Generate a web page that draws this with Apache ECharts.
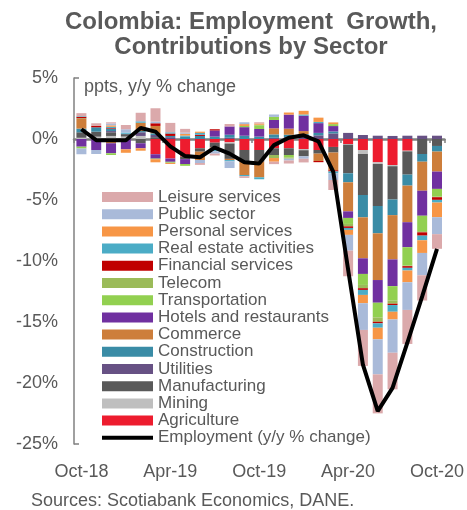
<!DOCTYPE html>
<html>
<head>
<meta charset="utf-8">
<script src="https://cdn.jsdelivr.net/npm/echarts@6/dist/echarts.min.js"></script>
<style>
html,body{margin:0;padding:0;background:#fff;}
#chart{width:467px;height:510px;}
</style>
</head>
<body>
<div id="chart"></div>
<script>
const categories = ['Oct-18','Nov-18','Dec-18','Jan-19','Feb-19','Mar-19','Apr-19','May-19','Jun-19','Jul-19','Aug-19','Sep-19','Oct-19','Nov-19','Dec-19','Jan-20','Feb-20','Mar-20','Apr-20','May-20','Jun-20','Jul-20','Aug-20','Sep-20','Oct-20'];
const yTicks = [-25,-20,-15,-10,-5,0,5];

const agriculture   = [0,0,0,0,0,-1.25,-1.6,-1.45,-0.76,-0.3,-0.27,-0.9,-0.9,-0.76,-0.76,-0.82,-0.9,-0.65,-0.41,-0.9,-1.91,-2.13,-0.96,0,0];
const mining        = [0.1,0.19,0.25,0.2,0.25,0,0,0,0,0,-0.1,0,0,0,0,-0.1,0,0,-0.05,-0.33,-0.14,-0.1,-0.05,0,0];
const manufacturing = [0.45,0.41,0.3,0.2,-0.35,0.15,0,-0.2,-0.28,-0.4,-1.26,-0.95,-0.96,-0.55,-0.55,-0.5,-0.3,-0.46,-2.35,-3.36,-3.44,-2.73,-1.91,-1.23,-0.57];
const utilities     = [0,0,0.1,0,0.3,0.18,0.15,0,0,0,0.1,0,0,0.1,0.15,0.2,0.3,0.46,0.5,0.33,0.27,0.25,0.27,0.27,0.27];
const construction  = [0.3,0.36,0.2,0.03,0.1,0.14,0.1,0.18,0.25,0.2,0.25,0.27,0.2,0.28,0.2,0.2,0.2,0.16,-0.74,-1.83,-2.24,-1.28,-0.9,-0.63,-0.46];
const commerce      = [0.8,0,-0.35,0,0.68,0.6,0,0,-0.68,-0.2,-0.1,-1.1,-1.28,0.5,0.5,0.25,-0.6,-1.45,-2.38,-3.36,-3.83,-3.63,-3.0,-2.38,-1.64];
const hotels        = [-0.63,-0.9,-0.82,-0.85,-0.41,-0.36,-0.27,-0.4,0,0.5,0.68,0.7,0.62,0.68,1.15,1.26,0.8,0.44,-0.54,-1.28,-1.86,-2.19,-2.05,-2.05,-1.42];
const transport     = [-0.15,0,-0.14,0,0,-0.05,-0.05,-0.15,0,0,0,0.1,0.3,0.25,-0.2,0,0,0.16,-0.49,-0.9,-1.2,-1.17,-1.5,-1.26,-0.63];
const telecom       = [0.05,0,0,0,0,0,-0.05,0,0,0,0,0,0.05,-0.25,-0.1,0,0,0,-0.2,-0.27,-0.36,-0.27,-0.05,-0.1,-0.05];
const financial     = [0.12,0.11,0.05,0,0,0.22,0.2,0,0.1,0.1,0,0,0,0,0,0,-0.1,-0.1,-0.13,-0.14,-0.13,-0.11,-0.14,-0.27,-0.22];
const realEstate    = [0.05,0,0.1,0.1,0.12,0,0.1,0.1,0.15,-0.1,-0.1,-0.1,-0.16,0,0,0.1,0.1,-0.15,-0.16,-0.41,-0.36,-0.55,-0.22,-0.38,-0.22];
const personal      = [0,0,0.12,-0.28,-0.2,-0.25,-0.08,0.15,0.1,0,0,0.15,0.1,-0.3,0.17,0.3,0.35,0.14,-0.41,-0.68,-0.95,-0.63,-0.96,-1.04,-1.2];
const publicSector  = [-0.47,-0.33,0.15,0.27,0,0.14,0,0.1,-0.25,-0.2,-0.55,0.15,0,0.2,-0.15,-0.2,0,-0.55,-1.29,-2.19,-2.87,-2.73,-2.27,-1.83,-1.39];
const leisure       = [0.25,0.22,0.1,0.35,0.7,1.09,0.77,0.3,-0.15,-0.15,0.2,-0.14,0.1,-0.2,-0.25,-0.3,0,-0.82,-2.1,-2.95,-3.2,-3.0,-2.79,-2.07,-1.2];
const employment    = [0.8,-0.1,-0.1,-0.1,0.9,0.6,-0.6,-1.4,-1.5,-0.7,-1.2,-1.9,-2.0,-0.5,0.1,0.3,-0.2,-2.7,-10.7,-18.5,-22.3,-20.4,-16.7,-12.9,-9.0];

// stacking order from zero outward
const sectors = [
  ['Agriculture', agriculture, '#ED1C2E'],
  ['Mining', mining, '#BFBFBF'],
  ['Manufacturing', manufacturing, '#595959'],
  ['Utilities', utilities, '#675184'],
  ['Construction', construction, '#3A8CA6'],
  ['Commerce', commerce, '#CD7E3B'],
  ['Hotels and restaurants', hotels, '#7030A0'],
  ['Transportation', transport, '#92D050'],
  ['Telecom', telecom, '#9BBB59'],
  ['Financial services', financial, '#C00000'],
  ['Real estate activities', realEstate, '#4BACC6'],
  ['Personal services', personal, '#F79646'],
  ['Public sector', publicSector, '#A9BAD9'],
  ['Leisure services', leisure, '#DBA9AB']
];
const lineName = 'Employment (y/y % change)';
const FONT = "'Liberation Sans', Arial, sans-serif";
const GREY = '#595959';

const series = sectors.map(([name, data, color]) => ({
  name, type: 'bar', stack: 'total', data, barWidth: 10,
  itemStyle: { color }, emphasis: { disabled: true }
}));
series.push({
  name: lineName, type: 'line', data: employment, symbol: 'none', showSymbol: false,
  lineStyle: { color: '#000', width: 4 }, itemStyle: { color: '#000' }, z: 5,
  emphasis: { disabled: true }
});

const legendData = sectors.slice().reverse().map(s => ({ name: s[0], icon: 'rect' }));
legendData.push({ name: lineName, itemStyle: { opacity: 0 }, lineStyle: { color: '#000', width: 4 } });

const chart = echarts.init(document.getElementById('chart'), null, { renderer: 'canvas' });
chart.setOption({
  animation: false,
  backgroundColor: '#fff',
  textStyle: { fontFamily: FONT },
  grid: { left: 74, top: 78, width: 371, height: 366, containLabel: false },
  legend: {
    orient: 'vertical', left: 100, top: 188.5, padding: 0,
    itemWidth: 51, itemHeight: 10, itemGap: 0.2,
    selectedMode: false,
    textStyle: { fontFamily: FONT, fontSize: 17, lineHeight: 17, color: GREY },
    data: legendData
  },
  xAxis: [{
    type: 'category', data: categories, position: 'bottom',
    axisLine: { show: false, onZero: false }, axisTick: { show: false },
    axisLabel: { interval: 5, margin: 19, color: GREY, fontSize: 18, fontFamily: FONT },
    splitLine: { show: false }
  }, {
    type: 'category', data: categories, position: 'bottom',
    axisLine: { show: true, onZero: true, lineStyle: { color: '#808080', width: 2.5 } },
    axisTick: { show: true, interval: 5, length: 4, lineStyle: { color: '#808080', width: 1.5 } },
    axisLabel: { show: false }, splitLine: { show: false }
  }],
  yAxis: {
    type: 'value', min: -25, max: 5, interval: 5,
    axisLine: { show: true, lineStyle: { color: '#808080', width: 1.5 } },
    axisTick: { show: true, inside: true, length: 5, customValues: [yTicks[0], yTicks[yTicks.length-1]], lineStyle: { color: '#808080', width: 1.5 } },
    axisLabel: { formatter: '{value}%', color: GREY, fontSize: 18, margin: 16, fontFamily: FONT, customValues: yTicks },
    splitLine: { show: false }
  },
  graphic: [
    { type: 'text', style: { x: 251, y: 22, text: 'Colombia: Employment  Growth,', textAlign: 'center', textVerticalAlign: 'middle', fill: GREY, font: "bold 24px 'Liberation Sans', Arial, sans-serif" } },
    { type: 'text', style: { x: 251, y: 47, text: 'Contributions by Sector', textAlign: 'center', textVerticalAlign: 'middle', fill: GREY, font: "bold 24px 'Liberation Sans', Arial, sans-serif" } },
    { type: 'text', style: { x: 84, y: 87, text: 'ppts, y/y % change', textVerticalAlign: 'middle', fill: GREY, font: "18px 'Liberation Sans', Arial, sans-serif" } },
    { type: 'text', style: { x: 31, y: 501, text: 'Sources: Scotiabank Economics, DANE.', textVerticalAlign: 'middle', fill: GREY, font: "18px 'Liberation Sans', Arial, sans-serif" } }
  ],
  series
});
</script>
</body>
</html>
